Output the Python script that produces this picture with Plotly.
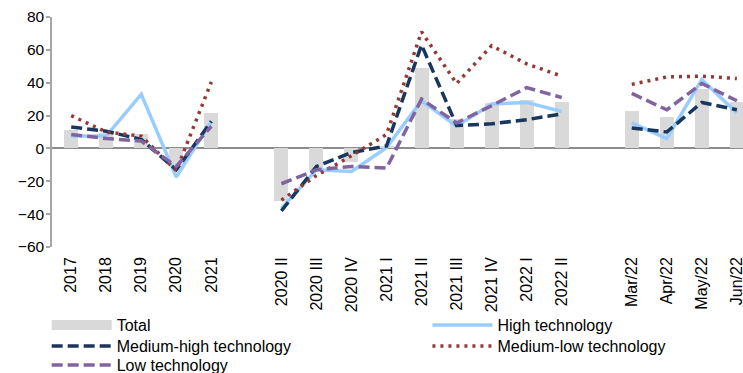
import plotly.graph_objects as go

# Period labels for the three blocks of the chart
annual = ["2017", "2018", "2019", "2020", "2021"]
quarterly = ["2020 II", "2020 III", "2020 IV", "2021 I", "2021 II",
             "2021 III", "2021 IV", "2022 I", "2022 II"]
monthly = ["Mar/22", "Apr/22", "May/22", "Jun/22"]

# Year-on-year change, %
total_annual = [11.5, 9.5, 8.5, -11, 21.5]
total_quarterly = [-32, -14, -8, 1.5, 49, 18, 27.5, 29.5, 28]
total_monthly = [23, 19, 36, 28.5]

high_annual = [7.5, 7.5, 33, -17.5, 16.5]
high_quarterly = [-36.5, -13, -14, 0.5, 29, 13.5, 27, 28, 22.5]
high_monthly = [15.5, 6, 42, 21.5]

medhigh_annual = [13, 10.5, 5.5, -13, 16.5]
medhigh_quarterly = [-38, -11, -2.5, 1.5, 63, 14, 15, 17.5, 21]
medhigh_monthly = [12.5, 10, 28, 23.5]

medlow_annual = [20, 10, 7.5, -13.5, 40.5]
medlow_quarterly = [-31.5, -16.5, -4.5, 8.5, 71, 39.5, 62.5, 51.5, 44]
medlow_monthly = [39, 43.5, 44, 42.5]

low_annual = [8.5, 6, 4.5, -11, 13.5]
low_quarterly = [-21.5, -13, -11, -12, 30, 15.5, 26, 37, 31]
low_monthly = [33.5, 23.5, 39.5, 29]

# Blank spacer categories separate the blocks
SPACER_A, SPACER_B = " ", "  "
categories = annual + [SPACER_A] + quarterly + [SPACER_B] + monthly


def join(a, q, m):
    return list(a) + [None] + list(q) + [None] + list(m)


FONT = "Liberation Sans, Arial, sans-serif"

fig = go.Figure()

fig.add_trace(go.Bar(
    x=categories, y=join(total_annual, total_quarterly, total_monthly),
    name="Total", marker=dict(color="#D9D9D9", line=dict(width=0)),
    width=0.4, showlegend=False,
))
# legend entry for the bars drawn as a wide grey swatch
fig.add_trace(go.Scatter(
    x=[None], y=[None], mode="lines", name="Total",
    line=dict(color="#D9D9D9", width=10), legend="legend",
))

# one legend per cell of the 2-column key
series = [
    ("High technology", join(high_annual, high_quarterly, high_monthly),
     dict(color="#99CCFF", width=3.5, dash="solid"), "legend2"),
    ("Medium-high technology", join(medhigh_annual, medhigh_quarterly, medhigh_monthly),
     dict(color="#17375E", width=3.5, dash="11px,5px"), "legend3"),
    ("Medium-low technology", join(medlow_annual, medlow_quarterly, medlow_monthly),
     dict(color="#953735", width=3.5, dash="3px,5px"), "legend4"),
    ("Low technology", join(low_annual, low_quarterly, low_monthly),
     dict(color="#8064A2", width=3.5, dash="11px,5px"), "legend5"),
]
for name, vals, line, leg in series:
    fig.add_trace(go.Scatter(
        x=categories, y=vals, name=name, mode="lines",
        line=line, connectgaps=False, legend=leg,
    ))

legend_style = dict(
    orientation="v", yanchor="top", xanchor="left",
    itemwidth=60, tracegroupgap=0, bgcolor="rgba(0,0,0,0)",
    font=dict(family=FONT, size=16, color="#000000"),
)
COL1, COL2 = -0.0077, 0.5433
ROW1, ROW2, ROW3 = -0.2657, -0.357, -0.4396

fig.update_layout(
    width=743, height=373,
    margin=dict(l=52, r=0, t=17, b=126, autoexpand=False),
    paper_bgcolor="white", plot_bgcolor="white",
    font=dict(family=FONT, size=15, color="#000000"),
    bargap=0,
    legend=dict(x=COL1, y=ROW1, **legend_style),
    legend2=dict(x=COL2, y=ROW1, **legend_style),
    legend3=dict(x=COL1, y=ROW2, **legend_style),
    legend4=dict(x=COL2, y=ROW2, **legend_style),
    legend5=dict(x=COL1, y=ROW3, **legend_style),
)

fig.update_xaxes(
    type="category", categoryorder="array", categoryarray=categories,
    range=[-0.548, 19.175], tickangle=-90, showline=False, showgrid=False,
    zeroline=False, ticks="", tickfont=dict(family=FONT, size=16),
    automargin=False, ticklabelstandoff=6,
)
fig.update_yaxes(
    range=[-60, 80], tickvals=[-60, -40, -20, 0, 20, 40, 60, 80],
    showgrid=False, showline=True, linecolor="#A6A6A6", linewidth=1.5,
    ticks="outside", ticklen=4, tickcolor="#A6A6A6", tickwidth=1.5,
    zeroline=True, zerolinecolor="#8C8C8C", zerolinewidth=2,
    tickfont=dict(family=FONT, size=15.5), automargin=False,
    ticklabelstandoff=-1,
)

fig.write_html("out.html")
